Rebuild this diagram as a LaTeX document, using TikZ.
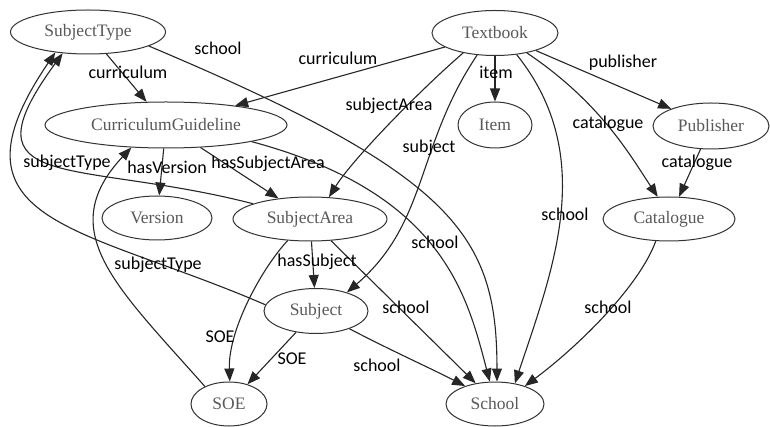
\documentclass[tikz,border=0pt]{standalone}
\usepackage{fontspec}
\setmainfont{Liberation Serif}
\newfontfamily\labelfont{Carlito}
\usetikzlibrary{shapes.geometric,arrows.meta}
\begin{document}
\begin{tikzpicture}[x=1pt,y=-1pt,
  ent/.style={ellipse,draw=black!80,line width=1pt,inner sep=0pt,text=black!65,font=\fontsize{17.5}{20}\selectfont},
  rel/.style={draw=black!85,line width=1.1pt,-{Triangle[length=13pt,width=10pt]}},
  lbl/.style={font=\labelfont\fontsize{18}{20}\selectfont,inner sep=0pt,text=black}]
\useasboundingbox[fill=white] (0,0) rectangle (770,427);

\node[ent,minimum width=155pt,minimum height=44pt] (ST) at (88,32) {SubjectType};
\node[ent,minimum width=126pt,minimum height=45pt] (TB) at (495,33) {Textbook};
\node[ent,minimum width=242pt,minimum height=46pt] (CG) at (166,125) {CurriculumGuideline};
\node[ent,minimum width=74pt,minimum height=46pt] (IT) at (495,125) {Item};
\node[ent,minimum width=116pt,minimum height=46pt] (PB) at (711,126) {Publisher};
\node[ent,minimum width=110pt,minimum height=44pt] (VE) at (157,218) {Version};
\node[ent,minimum width=154pt,minimum height=44pt] (SA) at (310,219) {SubjectArea};
\node[ent,minimum width=132pt,minimum height=44pt] (CA) at (669,219) {Catalogue};
\node[ent,minimum width=104pt,minimum height=45pt] (SU) at (316,311) {Subject};
\node[ent,minimum width=76pt,minimum height=44pt] (SO) at (229,404) {SOE};
\node[ent,minimum width=98pt,minimum height=44pt] (SC) at (495,404) {School};

\draw[rel] (ST) -- (CG);
\draw[rel] (ST.-13) .. controls (455,175) and (497,235) .. (SC.85);
\draw[rel] (TB) -- (CG);
\draw[rel] (TB.212) .. controls (418,92) and (352,160) .. (SA.49);
\draw[rel] (TB.231) .. controls (416,146) and (428,223) .. (SU.31);
\draw[rel] (TB) -- (IT);
\draw[rel] (TB.-45) .. controls (598,156) and (553,269) .. (SC.46);
\draw[rel] (TB.-32) .. controls (600,102) and (630,155) .. (CA.117);
\draw[rel] (TB) -- (PB);
\draw[rel] (PB) -- (CA);
\draw[rel] (CA.239) .. controls (640,285) and (580,345) .. (SC.31);
\draw[rel] (CG) -- (VE);
\draw[rel] (CG) -- (SA);
\draw[rel] (CG.-11) .. controls (443,193) and (467,295) .. (SC.103);
\draw[rel] (SA) -- (SU);
\draw[rel] (SA.224) .. controls (262,268) and (228,330) .. (SO.88);
\draw[rel] (SA.165) .. controls (75,158) and (-40,194) .. (ST.220);
\draw[rel] (SU.173) .. controls (81,225) and (-61,224) .. (ST.212);
\draw[rel] (SO.144) .. controls (117,287) and (53,231) .. (CG.213);
\draw[rel] (SU) -- (SO);
\draw[rel] (SU.-28) .. controls (390,350) and (430,368) .. (SC.149);
\draw[rel] (SA.-46) -- (SC.133);

\node[lbl] (l1) at (128,72) {curriculum};
\node[lbl] (l2) at (218,48) {school};
\node[lbl] (l3) at (338,58) {curriculum};
\node[lbl] (l4) at (389,106) {subjectArea};
\node[lbl] (l5) at (429,148) {subject};
\node[lbl] (l6) at (496,72) {item};
\node[lbl] (l7) at (623,63) {publisher};
\node[lbl] (l8) at (608,124) {catalogue};
\node[lbl] (l9) at (697,163) {catalogue};
\node[lbl] (l10) at (565,214) {school};
\node[lbl] (l11) at (435,242) {school};
\node[lbl] (l12) at (406,307) {school};
\node[lbl] (l13) at (608,307) {school};
\node[lbl] (l14) at (377,365) {school};
\node[lbl] (l15) at (317,262) {hasSubject};
\node[lbl] (l16) at (220,337) {SOE};
\node[lbl] (l17) at (292,359) {SOE};
\node[lbl] (l18) at (158,265) {subjectType};
\node[lbl] (l19) at (67,163) {subjectType};
\node[lbl] (l20) at (167,167) {hasVersion};
\node[lbl] (l21) at (268,164) {hasSubjectArea};
\end{tikzpicture}
\end{document}
